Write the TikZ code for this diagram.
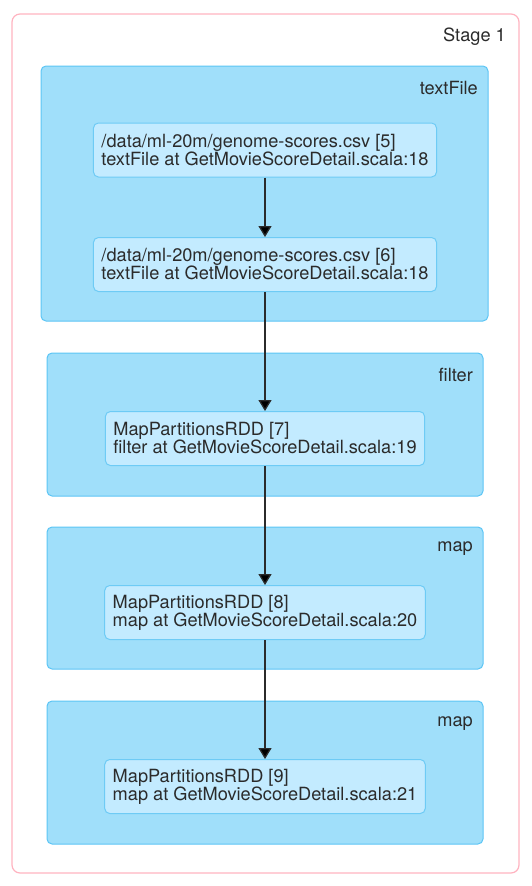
\documentclass[tikz,border=0pt]{standalone}
\usepackage{fontspec}
\setmainfont{TeX Gyre Heros}
\usetikzlibrary{positioning,arrows.meta}

\definecolor{stageline}{HTML}{FFB3C0}
\definecolor{clusterfill}{HTML}{A0DFFA}
\definecolor{clusterline}{HTML}{5CC5F5}
\definecolor{rddfill}{HTML}{C3EBFF}
\definecolor{rddline}{HTML}{6ECBF5}
\definecolor{ink}{HTML}{2B2B2B}

\begin{document}
\begin{tikzpicture}[x=1pt,y=-1pt,node distance=174pt,on grid,
	font=\fontsize{18.2}{18}\selectfont,text=ink,
	cluster/.style={draw=clusterline,fill=clusterfill,line width=1pt,rounded corners=5pt,inner sep=0pt},
	rdd/.style={draw=rddline,fill=rddfill,line width=1pt,rounded corners=5pt,align=left,
		minimum height=54pt,inner xsep=8pt},
	tag/.style={anchor=east,inner sep=0pt}]
	\useasboundingbox (0,0) rectangle (532,886);
	\draw[stageline,line width=1.2pt,rounded corners=8pt] (12,14) rectangle (519,873);
	\node[tag] (stage) at (506,37) {Stage 1};
	% clusters
	\node[cluster,minimum width=447pt,minimum height=255pt] (textfile) at (264.5,193.5) {};
	\node[cluster,minimum width=436pt,minimum height=143pt] (filter) at (265,424.5) {};
	\node[cluster,minimum width=436pt,minimum height=142pt] (map1) at (265,598) {};
	\node[cluster,minimum width=436pt,minimum height=143pt] (map2) at (265,772.5) {};
	\node[tag] at (478,88) {textFile};
	\node[tag] at (473,375) {filter};
	\node[tag] at (473,549) {map};
	\node[tag] at (473,724) {map};
	% rdds
	\node[rdd] (r5) at (265,150) {/data/ml-20m/genome-scores.csv [5]\\textFile at GetMovieScoreDetail.scala:18};
	\node[rdd] (r6) [below=114.5pt of r5] {/data/ml-20m/genome-scores.csv [6]\\textFile at GetMovieScoreDetail.scala:18};
	\node[rdd] (r7) [below=of r6] {MapPartitionsRDD [7]\\filter at GetMovieScoreDetail.scala:19};
	\node[rdd] (r8) [below=of r7] {MapPartitionsRDD [8]\\map at GetMovieScoreDetail.scala:20};
	\node[rdd] (r9) [below=of r8] {MapPartitionsRDD [9]\\map at GetMovieScoreDetail.scala:21};
	\path[-{Triangle[length=11pt,width=13pt]},draw=ink,line width=1.3pt]
	(r5) edge (r6)
	(r6) edge (r7)
	(r7) edge (r8)
	(r8) edge (r9);
\end{tikzpicture}
\end{document}
